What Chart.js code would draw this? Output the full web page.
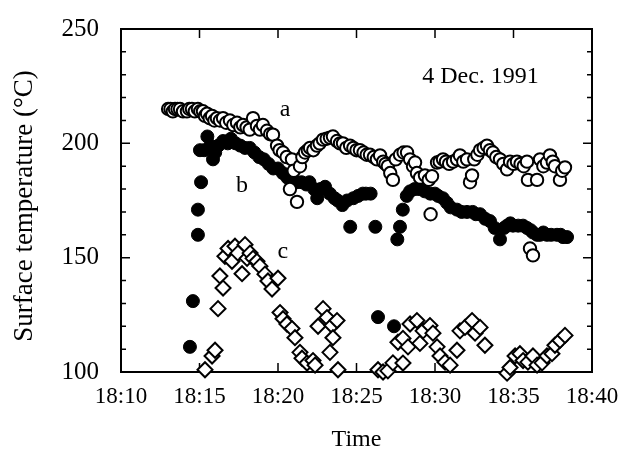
<!DOCTYPE html>
<html>
<head>
<meta charset="utf-8">
<script src="https://cdn.jsdelivr.net/npm/chart.js@4.4.0/dist/chart.umd.min.js"></script>
<style>
html,body{margin:0;padding:0;background:#fff;}
#wrap{width:626px;height:450px;position:relative;}
</style>
</head>
<body>
<div id="wrap"><canvas id="c" width="626" height="450"></canvas></div>
<script>
// Time in minutes after 18:00
const xTicks = [10, 15, 20, 25, 30, 35, 40];
const yTicks = [100, 150, 200, 250];

const aTimes = [13.0,13.15,13.3,13.44,13.6,13.76,13.95,14.2,14.35,14.52,14.7,14.9,15.05,15.22,15.35,15.48,15.65,15.8,15.95,16.11,16.3,16.5,16.7,16.94,17.15,17.39,17.6,17.77,18.0,18.2,18.41,18.66,18.85,19.04,19.3,19.5,19.68,19.94,20.1,20.32,20.55,20.76,20.89,21.0,21.21,21.4,21.55,21.72,21.9,22.04,22.25,22.48,22.65,22.87,23.1,23.31,23.5,23.76,23.95,24.14,24.35,24.59,24.8,25.0,25.22,25.45,25.65,25.86,26.1,26.3,26.5,26.7,26.85,27.0,27.15,27.32,27.5,27.77,28.0,28.22,28.41,28.6,28.73,28.85,29.05,29.36,29.6,29.72,29.81,30.13,30.3,30.51,30.7,30.9,31.15,31.4,31.59,31.8,32.04,32.23,32.36,32.5,32.7,32.87,33.1,33.31,33.5,33.69,33.9,34.14,34.35,34.59,34.78,35.0,35.22,35.45,35.65,35.86,35.92,36.05,36.24,36.5,36.69,36.9,37.13,37.32,37.5,37.64,37.96,38.1,38.28];
const aTemps = [215,215,214,215,215,215,214,214,215,215,214,215,214,214,212,213,211,212,210,211,210,211,209,210,208,209,207,208,207,206,211,207.6,206,208,205.5,204,203.8,199,197,196,194,180,193,188,174.4,190,194,196,197,198,197,199,200,201.6,202,202.5,203,201,200,200,198,199,198,197,197,196,195,195,194,193,194.7,192,191,190,187,184,193,195,196,196,193,190,191.6,187,185,186,184,169,185.6,191.6,192,193,192,191,192,193,194.7,192,193,183,186,193,195,197,198,199,197,196,194,193,191,188.6,192,191,192,191,190,192,184,154,151,184,193,190,191.6,194.7,192,190,184,188,189.5];

const bTimes = [14.39,14.58,14.9,14.9,15.1,15.03,15.3,15.5,15.7,15.86,16.0,16.2,16.5,16.8,17.0,17.3,17.6,17.9,18.2,18.5,18.8,19.1,19.4,19.7,20.0,20.3,20.6,20.9,21.2,21.5,21.8,22.0,22.3,22.5,22.7,23.0,23.3,23.6,23.8,24.1,24.4,24.6,24.8,25.1,25.4,25.6,25.9,26.2,26.37,27.39,27.6,27.77,27.95,28.2,28.41,28.7,29.0,29.35,29.7,30.0,30.2,30.5,30.76,31.0,31.4,31.7,32.04,32.4,32.6,32.87,33.2,33.5,33.8,34.14,34.4,34.59,34.8,34.97,35.3,35.61,35.86,36.1,36.24,36.5,36.69,36.9,37.13,37.4,37.77,38.0,38.15,38.41];
const bTemps = [111,131,160,171,183,197,197,203,199,193,196,199,201,200,202,200,199,198,198,196,194,193,191,189,189,187,185,184,183,183,182,183,180,176,180,181,178,176,175,173,175,163.5,176,177,178,178,178,163.5,124,120,158,163.5,171,177,179,180,180,179,178,178,177,176,174,172,171,170,170,170,169,169,167,166,163,158,163,164,165,164,164,164,163,162,161,160,160,161,160,160,160,160,159,159];

const cTimes = [15.35,15.8,15.99,16.18,16.3,16.5,16.62,16.82,17.07,17.26,17.45,17.71,17.9,18.03,18.22,18.41,18.66,18.85,19.17,19.36,19.62,20.0,20.13,20.32,20.57,20.89,21.08,21.4,21.53,21.85,22.23,22.36,22.55,22.87,23.12,23.31,23.44,23.5,23.76,23.82,26.37,26.69,27.0,27.32,27.64,27.96,27.96,28.28,28.41,28.85,29.04,29.24,29.68,29.87,30.13,30.32,30.64,30.96,31.4,31.59,31.91,32.36,32.55,32.87,33.18,34.59,34.78,35.1,35.41,35.61,35.92,36.24,36.5,36.82,37.13,37.45,37.64,37.96,38.28];
const cTemps = [101,107,109.5,127.7,142,136.7,150.6,154,148.4,155,152,143,155.7,149.7,152,149.7,148.4,146.3,142.8,139.8,136.3,141,126,123.3,121,119,115,108.6,106,103.9,105,103,120,127.7,123.8,108.6,120.3,115,122.5,101,101,100,100.5,104,113,103.9,114.7,111,121,122.5,112.5,118,120.3,117,111,107,104.3,103,109.5,118,119.5,122.5,117,119.5,111.7,99.5,102,107,108,105,104.3,107,103,104,107,108,111.7,113.8,116];

const labels = [
  {text: 'a', t: 20.45, v: 214.6},
  {text: 'b', t: 17.7, v: 181.5},
  {text: 'c', t: 20.3, v: 152.7},
  {text: '4 Dec. 1991', t: 32.9, v: 229}
];
const xTitle = 'Time';
const yTitle = 'Surface temperature (°C)';

const toPts = (ts, vs) => ts.map((t, i) => ({x: t, y: vs[i]}));

const FONT = "'Liberation Serif', 'Times New Roman', serif";

const framePlugin = {
  id: 'frame',
  beforeDatasetsDraw(chart) {
    const {ctx, chartArea: a, scales: {x, y}} = chart;
    ctx.save();
    ctx.strokeStyle = '#000';
    ctx.lineWidth = 2;
    ctx.strokeRect(a.left, a.top, a.right - a.left, a.bottom - a.top);
    ctx.lineWidth = 1.5;
    ctx.beginPath();
    for (let v = 100; v <= 250; v += 10) {
      const py = y.getPixelForValue(v);
      const len = (v % 50 === 0) ? 9 : 5;
      ctx.moveTo(a.left, py); ctx.lineTo(a.left + len, py);
      ctx.moveTo(a.right, py); ctx.lineTo(a.right - len, py);
    }
    for (const t of xTicks) {
      const px = x.getPixelForValue(t);
      ctx.moveTo(px, a.bottom); ctx.lineTo(px, a.bottom - 9);
      ctx.moveTo(px, a.top); ctx.lineTo(px, a.top + 9);
    }
    ctx.stroke();
    ctx.restore();
  },
  afterDatasetsDraw(chart) {
    const {ctx, chartArea: a, scales: {x, y}} = chart;
    ctx.save();
    ctx.fillStyle = '#000';
    ctx.textAlign = 'center';
    ctx.textBaseline = 'middle';
    ctx.font = '24px ' + FONT;
    for (const l of labels) {
      ctx.fillText(l.text, x.getPixelForValue(l.t), y.getPixelForValue(l.v));
    }
    // axis titles
    ctx.font = '24px ' + FONT;
    ctx.fillText(xTitle, x.getPixelForValue(25), a.bottom + 68);
    ctx.font = '27px ' + FONT;
    ctx.translate(25, y.getPixelForValue(172.6));
    ctx.rotate(-Math.PI / 2);
    ctx.fillText(yTitle, 0, 0);
    ctx.restore();
  }
};

new Chart(document.getElementById('c'), {
  type: 'scatter',
  data: {
    datasets: [
      {label: 'a', data: toPts(aTimes, aTemps), pointStyle: 'circle', pointRadius: 6.2,
       backgroundColor: '#fff', borderColor: '#000', borderWidth: 2, clip: false},
      {label: 'b', data: toPts(bTimes, bTemps), pointStyle: 'circle', pointRadius: 6.5,
       backgroundColor: '#000', borderColor: '#000', borderWidth: 1, clip: false},
      {label: 'c', data: toPts(cTimes, cTemps), pointStyle: 'rectRot', pointRadius: 7.5,
       backgroundColor: '#fff', borderColor: '#000', borderWidth: 2, clip: false}
    ]
  },
  options: {
    responsive: false,
    animation: false,
    layout: {padding: {top: 25, right: 34, left: 0, bottom: 0}},
    plugins: {legend: {display: false}, tooltip: {enabled: false}},
    scales: {
      x: {
        type: 'linear', min: 10, max: 40,
        afterBuildTicks: s => { s.ticks = xTicks.map(v => ({value: v})); },
        afterFit: s => { s.height = 78; },
        grid: {display: false}, border: {display: false},
        ticks: {color: '#000', font: {family: FONT, size: 23}, padding: 3,
                callback: v => '18:' + String(v).padStart(2, '0'), maxRotation: 0},
        title: {display: false}
      },
      y: {
        min: 100, max: 250,
        afterBuildTicks: s => { s.ticks = yTicks.map(v => ({value: v})); },
        afterFit: s => { s.width = 121; },
        grid: {display: false}, border: {display: false},
        ticks: {color: '#000', font: {family: FONT, size: 25}, padding: 14},
        title: {display: false}
      }
    }
  },
  plugins: [framePlugin]
});
</script>
</body>
</html>
